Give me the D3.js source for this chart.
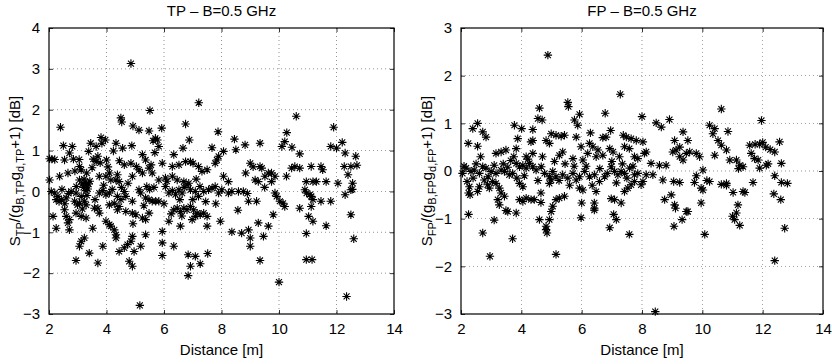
<!DOCTYPE html>
<html>
<head>
<meta charset="utf-8">
<script src="https://cdn.jsdelivr.net/npm/d3@7"></script>
<style>
  body { margin: 0; background: #fff; }
  svg { display: block; font-family: "Liberation Sans", Arial, sans-serif; }
  .grid line { stroke: #000; stroke-width: 0.6; stroke-dasharray: 1,3; opacity: 0.7; }
  .star { fill: none; stroke: #000; stroke-width: 1.1; }
</style>
</head>
<body>
<svg id="chart" width="832" height="364"></svg>
<script>
  // Distance [m] vs normalised value [dB], TP panel
  const tpPoints = [
    [4.85,3.13],[7.21,2.17],[5.51,1.98],[10.6,1.84],[4.5,1.8],[4.53,1.7],[2.4,1.57],[4.92,1.6],[5.13,1.5],[5.48,1.48],
    [5.92,1.55],[6.75,1.65],[7.88,1.46],[11.9,1.57],[10.27,1.44],[5.7,1.3],[5.77,1.26],[6.88,1.26],[3.81,1.32],[3.96,1.26],
    [3.84,1.18],[3.45,1.18],[3.64,1.1],[4.33,1.18],[4.88,1.12],[2.5,1.12],[2.81,1.1],[8.45,1.28],[8.82,1.14],[9.34,1.18],
    [10.1,1.1],[10.2,1.22],[12.2,1.2],[11.8,1.1],[5.62,1.24],[5.82,1.1],[7.67,1.07],[8.07,0.98],[8.5,1.02],[10.45,1.08],
    [12.0,1.06],[12.3,0.94],[12.67,0.86],[4.24,0.99],[4.56,1.06],[2.1,0.79],[2.2,0.78],[2.02,0.8],[2.54,0.77],[2.85,0.79],
    [2.71,0.94],[3.38,0.98],[3.54,0.79],[3.7,0.86],[3.64,0.73],[4.0,0.77],[5.25,0.9],[5.36,0.77],[6.34,0.9],[6.66,1.06],
    [6.75,0.73],[6.92,0.73],[7.84,0.77],[7.78,0.69],[7.9,0.86],[10.72,0.92],[10.72,0.57],[10.44,0.57],[10.55,0.61],[11.12,0.61],
    [11.46,0.61],[11.52,0.53],[12.27,0.61],[12.4,0.41],[12.71,0.64],[12.5,0.61],[4.62,0.65],[4.85,0.69],[5.04,0.61],[5.13,0.53],
    [5.25,0.45],[5.48,0.57],[5.59,0.45],[5.94,0.69],[6.29,0.61],[6.52,0.65],[7.2,0.61],[7.32,0.49],[7.5,0.53],[7.01,0.69],
    [9.0,0.69],[9.1,0.6],[9.34,0.61],[9.4,0.57],[9.74,0.45],[9.86,0.37],[2.66,0.45],[2.37,0.37],[2.02,0.28],[3.06,0.61],
    [3.12,0.53],[3.31,0.45],[3.25,0.22],[3.3,0.14],[3.38,0.18],[3.35,0.06],[3.2,0.1],[3.06,0.28],[3.75,0.37],[3.98,0.37],
    [4.1,0.45],[4.15,0.28],[4.33,0.28],[4.44,0.24],[4.38,0.41],[4.9,0.37],[5.13,0.04],[5.82,0.28],[6.05,0.33],[6.29,0.37],
    [6.46,0.28],[6.69,0.24],[6.86,0.2],[8.07,0.37],[8.24,0.24],[8.84,0.45],[9.17,0.28],[9.28,0.24],[9.51,0.37],[9.63,0.45],
    [9.74,0.24],[10.26,0.37],[10.95,0.24],[11.18,0.24],[11.3,0.24],[11.64,0.24],[12.05,0.2],[12.56,0.2],[12.5,0.04],
    [2.08,0],[2.2,-0.04],[2.31,-0.12],[2.43,-0.2],[2.6,-0.16],[2.25,-0.2],[2.77,0],[2.94,-0.04],[3.12,-0.12],[2.89,-0.24],
    [3.06,-0.29],[3.23,-0.24],[3.29,-0.33],[3.75,-0.04],[3.87,0.02],[3.98,-0.08],[4.1,-0.04],[4.38,-0.12],[4.5,-0.2],[4.62,0],
    [4.67,-0.12],[4.9,-0.24],[5.19,-0.04],[5.36,-0.16],[5.48,-0.2],[5.59,-0.24],[5.71,-0.24],[5.82,-0.24],[6.05,0.12],[6.17,-0.04],
    [6.29,0.02],[6.4,-0.08],[6.52,0.04],[6.63,-0.04],[6.8,0.16],[6.92,0.04],[7.09,0],[7.2,-0.12],[7.38,0],[7.55,0.04],
    [7.67,0.08],[7.78,0.12],[7.9,-0.04],[8.01,0.04],[8.24,-0.04],[8.36,0],[8.59,0],[8.76,0],[8.94,-0.24],[9.22,-0.24],
    [9.86,-0.04],[9.92,-0.12],[10.03,-0.24],[10.14,-0.29],[10.2,-0.37],[10.9,0.04],[10.96,-0.04],[11.08,-0.08],[11.12,-0.12],[11.18,-0.2],
    [11.12,-0.37],[11.46,-0.24],[11.8,-0.24],[12.3,-0.08],
    [2.14,-0.61],[2.54,-0.45],[2.6,-0.61],[2.71,-0.69],[2.66,-0.77],[2.94,-0.53],[3.12,-0.61],[3.29,-0.65],[2.99,-0.33],[3.16,-0.43],
    [3.58,-0.41],[3.7,-0.41],[3.75,-0.53],[4.1,-0.33],[4.27,-0.29],[4.44,-0.37],[4.38,-0.45],[4.67,-0.49],[4.9,-0.53],[5.02,-0.57],
    [5.25,-0.65],[5.36,-0.69],[5.48,-0.53],[6.34,-0.45],[6.46,-0.41],[6.57,-0.49],[6.69,-0.41],[6.8,-0.45],[6.92,-0.37],[7.03,-0.45],
    [7.15,-0.53],[7.26,-0.57],[7.38,-0.53],[7.5,-0.61],[6.17,-0.73],[6.57,-0.85],[6.98,-0.69],[7.09,-0.61],[7.5,-0.85],[7.96,-0.73],
    [8.57,-0.46],[9.63,-0.85],[9.28,-0.77],[9.8,-0.57],[10.72,-0.41],[11.03,-0.61],[11.18,-0.73],[11.64,-0.84],
    [2.25,-0.9],[2.71,-0.94],[3.52,-0.9],[3.87,-1.34],[3.98,-0.73],[4.1,-0.81],[4.15,-0.85],[4.27,-0.94],[4.33,-1.06],[4.33,-1.14],
    [3.23,-1.14],[3.12,-1.22],[3.06,-1.34],[2.94,-1.69],[3.4,-1.51],[3.7,-1.75],[4.44,-1.47],[4.62,-1.38],[4.73,-1.3],[4.85,-1.22],
    [4.9,-1.1],[4.79,-1.71],[4.9,-1.83],[4.96,-1.47],[5.19,-1.34],[5.36,-1.06],[4.92,-0.79],[5.94,-0.98],[5.94,-1.26],[5.94,-1.57],
    [6.34,-1.34],[6.84,-1.55],[6.92,-1.83],[6.84,-2.06],[7.09,-1.59],[7.26,-1.77],[7.52,-1.52],[8.36,-0.99],[8.7,-1.02],[8.94,-0.94],
    [9.0,-1.14],[9.0,-1.34],[9.34,-1.69],[9.46,-1.1],[10.0,-2.22],[10.95,-1.03],[10.95,-1.67],[11.15,-1.67],[12.35,-2.57],[12.6,-1.16],
    [12.5,-0.57],[5.16,-2.79],[12.55,0.05],
    // denser clusters near zero
    [3.22,0.3],[3.28,0.02],[3.32,-0.1],[3.15,0.18],[3.42,0.25],[2.95,0.12],[2.55,-0.3],[2.45,0.05],[2.35,-0.25],[2.68,-0.05],
    [3.6,-0.2],[3.9,0.15],[4.2,0.05],[4.52,0.1],[4.75,0.2],[5.3,-0.35],[5.5,0.05],[5.65,0.1],[5.4,0.12],[6.0,-0.3],
    [6.1,0.25],[6.55,-0.2],[6.7,0.1],[7.0,-0.2],[7.12,0.3],[7.25,0.12],[7.45,-0.25],[3.5,0.58],[3.78,0.7],[4.05,0.6],
    [4.45,0.75],[5.55,0.65],[5.68,0.95],[3.05,0.78],[2.9,0.5],[8.9,-0.05],[9.5,0.1],[7.8,-0.3],[6.25,-0.55],[6.62,-0.6]
  ];

  // FP panel
  const fpPoints = [
    [4.88,2.43],[7.28,1.61],[5.54,1.44],[5.56,1.35],[4.6,1.32],[10.63,1.3],[6.78,1.21],[5.93,1.19],[8.0,1.14],[11.96,1.06],
    [8.91,1.08],[8.47,1.01],[8.64,0.92],[2.55,1.0],[2.39,0.89],[4.55,1.1],[4.69,1.07],[5.76,1.07],[5.87,0.96],[3.77,0.96],
    [4.01,0.89],[4.38,0.87],[2.72,0.82],[2.83,0.71],[10.24,0.96],[10.41,0.89],[10.85,0.83],[9.36,0.82],[6.96,0.85],[6.29,0.8],
    [4.99,0.78],[5.15,0.75],[5.32,0.73],[5.43,0.75],[3.88,0.68],[7.38,0.75],[7.48,0.71],[7.64,0.68],[7.81,0.64],[8.03,0.61],
    [6.81,0.71],[6.7,0.7],[4.38,0.64],[4.32,0.61],[9.08,0.64],[9.52,0.64],[4.82,0.64],[4.93,0.58],[10.35,0.78],[10.52,0.64],
    [10.63,0.54],[11.57,0.54],[11.75,0.56],[11.9,0.56],[12.0,0.6],[12.1,0.5],[12.25,0.45],[12.4,0.4],[12.56,0.61],[2.24,0.58],
    [2.55,0.52],[5.82,0.71],[5.98,0.51],[6.26,0.58],[6.37,0.51],[6.54,0.44],[6.93,0.47],[7.04,0.4],[7.42,0.51],[7.58,0.47],
    [3.83,0.47],[3.49,0.44],[3.33,0.4],[3.16,0.37],[4.38,0.37],[4.16,0.3],[5.26,0.33],[5.37,0.4],[5.71,0.26],[6.04,0.23],
    [6.2,0.37],[6.48,0.3],[6.7,0.33],[7.25,0.3],[8.08,0.37],[8.14,0.4],[9.02,0.4],[9.13,0.44],[9.25,0.3],[9.36,0.23],
    [9.47,0.37],[9.58,0.4],[9.8,0.37],[9.91,0.3],[9.25,0.5],[10.02,0.02],[10.41,0.33],[10.8,0.44],[10.91,0.23],[11.13,0.23],
    [11.24,0.12],[11.35,0.09],[11.62,0.37],[11.73,0.26],[11.85,0.23],[11.9,0.06],[12.12,0.12],[12.18,0.15],[12.62,0.16],[8.3,0.16],
    [8.58,0.12],[8.8,0.12],[7.75,0.3],[7.86,0.26],
    [2.17,0.06],[2.33,-0.01],[2.44,0.02],[2.61,-0.05],[2.72,0.09],[2.83,0.06],[3.0,-0.01],[3.16,-0.05],[3.33,0.02],[3.44,-0.01],
    [3.6,-0.08],[3.71,-0.05],[3.83,0.16],[3.94,0.09],[4.05,0.12],[4.16,0.06],[4.27,0.16],[4.38,0.09],[4.49,0.02],[4.66,0.09],
    [4.77,-0.05],[4.93,-0.12],[5.04,-0.01],[5.15,-0.12],[5.37,-0.08],[5.54,-0.15],[5.71,-0.05],[5.82,-0.19],[5.93,-0.12],[6.1,-0.01],
    [6.26,-0.12],[6.43,-0.08],[6.59,-0.22],[6.76,-0.12],[6.98,0.09],[7.09,-0.01],[7.2,-0.08],[7.31,-0.01],[7.42,-0.05],[7.59,0.06],
    [7.75,-0.08],[7.86,-0.05],[8.03,-0.22],[7.97,-0.29],[8.14,-0.08],[8.36,-0.08],[8.69,-0.19],[9.05,-0.22],[9.25,-0.24],[9.8,-0.1],
    [9.74,-0.24],[9.96,-0.36],[10.02,-0.4],[10.24,-0.22],[10.8,-0.26],[11.02,-0.45],[11.35,-0.43],[11.41,-0.45],[11.68,-0.24],[12.4,-0.1],
    [12.62,-0.24],[12.82,-0.26],[12.37,-0.48],[12.6,-0.6],[12.73,-1.2],[12.4,-1.88],[10.63,-0.28],
    [2.2,-0.22],[2.28,-0.33],[2.25,-0.46],[2.3,-0.5],[2.25,-0.91],[2.55,-0.43],[2.61,-0.33],[2.77,-0.19],[2.88,-0.29],[2.94,-0.36],
    [3.05,-0.22],[3.16,-0.26],[3.27,-0.36],[3.33,-0.46],[3.44,-0.53],[3.22,-0.6],[3.27,-0.71],[2.72,-1.3],[2.96,-1.79],[3.1,-1.03],
    [3.49,-0.83],[3.55,-0.85],[3.71,-1.42],[3.83,-0.88],[3.94,-0.6],[4.05,-0.64],[4.16,-0.57],[3.94,-0.26],[4.05,-0.33],[4.32,-0.6],
    [4.43,-0.6],[4.65,-0.66],[4.6,-1.02],[4.65,-0.46],[4.82,-1.23],[4.85,-1.3],[4.82,-1.16],[4.93,-1.02],[4.99,-0.85],[5.04,-0.74],
    [5.15,-0.6],[5.26,-0.57],[5.43,-0.53],[4.93,-0.26],[4.99,-0.19],[5.15,-1.75],[5.98,-0.98],[6.0,-0.67],[5.93,-0.36],[6.04,-0.4],
    [6.42,-0.67],[6.42,-0.78],[6.42,-0.82],[6.48,-0.43],[6.93,-1.19],[6.98,-0.58],[7.09,-0.6],[7.06,-0.91],[7.15,-1.02],[7.31,-0.67],
    [7.42,-0.43],[7.53,-0.36],[7.64,-0.29],[7.75,-0.22],[7.58,-1.33],[8.75,-0.6],[8.97,-0.5],[9.08,-0.71],[9.11,-0.78],[9.06,-1.16],
    [9.33,-1.02],[9.47,-0.85],[9.52,-0.85],[9.96,-0.67],[10.08,-1.33],[11.0,-0.95],[11.07,-1.02],[11.13,-0.88],[11.18,-0.71],[11.24,-1.14],
    [8.44,-2.95],[10.15,-0.2],[10.8,-0.3],[11.2,0.05],
    // denser clusters near zero
    [2.05,-0.05],[2.1,0.1],[2.4,-0.15],[2.5,0.15],[2.9,-0.12],[3.1,0.12],[3.4,0.15],[3.55,0.08],[3.65,0.22],[3.75,0.3],
    [3.85,-0.15],[4.1,-0.1],[4.22,0.25],[4.55,-0.2],[4.7,0.3],[5.1,0.2],[5.25,-0.2],[5.45,0.15],[5.6,-0.3],[5.75,0.1],
    [6.15,0.1],[6.35,-0.3],[6.6,0.05],[6.85,-0.05],[7.0,0.2],[7.15,-0.25],[7.35,0.15],[7.5,-0.15],[7.7,0.1],[2.65,0.3]
  ];

  const xTicks = [2, 4, 6, 8, 10, 12, 14];
  const tpYTicks = [-3, -2, -1, 0, 1, 2, 3, 4];
  const fpYTicks = [-3, -2, -1, 0, 1, 2, 3];

  const svg = d3.select('#chart');
  const FS = 15;

  // 8-armed MATLAB style asterisk
  function starPath(r) {
    const a = r * 0.7071;
    return `M${-r},0H${r}M0,${-r}V${r}M${-a},${-a}L${a},${a}M${-a},${a}L${a},${-a}`;
  }

  function drawPanel(opts) {
    const { left, right, top, bottom, yDomain, yTicks, points, title, sub } = opts;

    const x = d3.scaleLinear().domain([2, 14]).range([left, right]);
    const y = d3.scaleLinear().domain(yDomain).range([bottom, top]);
    const g = svg.append('g');

    // grid
    const grid = g.append('g').attr('class', 'grid');
    grid.selectAll('.gx').data(xTicks.slice(1, -1)).enter().append('line')
      .attr('x1', d => x(d)).attr('x2', d => x(d))
      .attr('y1', top).attr('y2', bottom);
    grid.selectAll('.gy').data(yTicks.slice(1, -1)).enter().append('line')
      .attr('x1', left).attr('x2', right)
      .attr('y1', d => y(d)).attr('y2', d => y(d));

    // markers
    g.append('g').selectAll('path')
      .data(points)
      .enter().append('path')
      .attr('class', 'star')
      .attr('transform', d => `translate(${x(d[0])},${y(d[1])})`)
      .attr('d', starPath(4.2));

    // axes: ticks inside, on all four sides
    const tl = 4;
    g.append('g').attr('transform', `translate(0,${bottom})`)
      .call(d3.axisBottom(x).tickValues(xTicks).tickSize(-tl).tickPadding(9))
      .call(a => a.select('.domain').remove());
    g.append('g').attr('transform', `translate(0,${top})`)
      .call(d3.axisTop(x).tickValues(xTicks).tickSize(-tl).tickFormat(''))
      .call(a => a.select('.domain').remove());
    g.append('g').attr('transform', `translate(${left},0)`)
      .call(d3.axisLeft(y).tickValues(yTicks).tickSize(-tl).tickPadding(9).tickFormat(d => d < 0 ? '\u2212' + Math.abs(d) : d))
      .call(a => a.select('.domain').remove());
    g.append('g').attr('transform', `translate(${right},0)`)
      .call(d3.axisRight(y).tickValues(yTicks).tickSize(-tl).tickFormat(''))
      .call(a => a.select('.domain').remove());
    g.selectAll('.tick line').attr('stroke', '#000').attr('stroke-width', 0.8);
    g.selectAll('.tick text').attr('fill', '#000')
      .style('font-size', FS + 'px').style('font-family', '"Liberation Sans", Arial, sans-serif');

    g.append('rect')
      .attr('x', left).attr('y', top)
      .attr('width', right - left).attr('height', bottom - top)
      .attr('fill', 'none').attr('stroke', '#000').attr('stroke-width', 1.2);

    // title
    g.append('text')
      .attr('x', (left + right) / 2).attr('y', 16)
      .attr('text-anchor', 'middle')
      .style('font-size', FS + 'px')
      .text(title);

    // x label
    g.append('text')
      .attr('x', (left + right) / 2).attr('y', 355)
      .attr('text-anchor', 'middle')
      .style('font-size', FS + 'px')
      .text('Distance [m]');

    // y label with subscripts
    const yl = g.append('text')
      .attr('transform', `translate(${left - 29},${(top + bottom) / 2}) rotate(-90)`)
      .attr('text-anchor', 'middle')
      .style('font-size', FS + 'px');
    const parts = [
      ['S', false], [sub, true], ['/(g', false], ['B,' + sub, true],
      ['g', false], ['d,' + sub, true], ['+1) [dB]', false]
    ];
    parts.forEach((p, i) => {
      const t = yl.append('tspan').text(p[0]);
      if (p[1]) t.attr('dy', 4).style('font-size', '11px');
      else t.attr('dy', i === 0 ? 0 : -4);
    });
  }

  drawPanel({
    left: 49, right: 394, top: 28, bottom: 314,
    yDomain: [-3, 4], yTicks: tpYTicks, points: tpPoints,
    title: 'TP \u2013 B=0.5 GHz', sub: 'TP'
  });

  drawPanel({
    left: 461, right: 823, top: 28, bottom: 314,
    yDomain: [-3, 3], yTicks: fpYTicks, points: fpPoints,
    title: 'FP \u2013 B=0.5 GHz', sub: 'FP'
  });
</script>
</body>
</html>
